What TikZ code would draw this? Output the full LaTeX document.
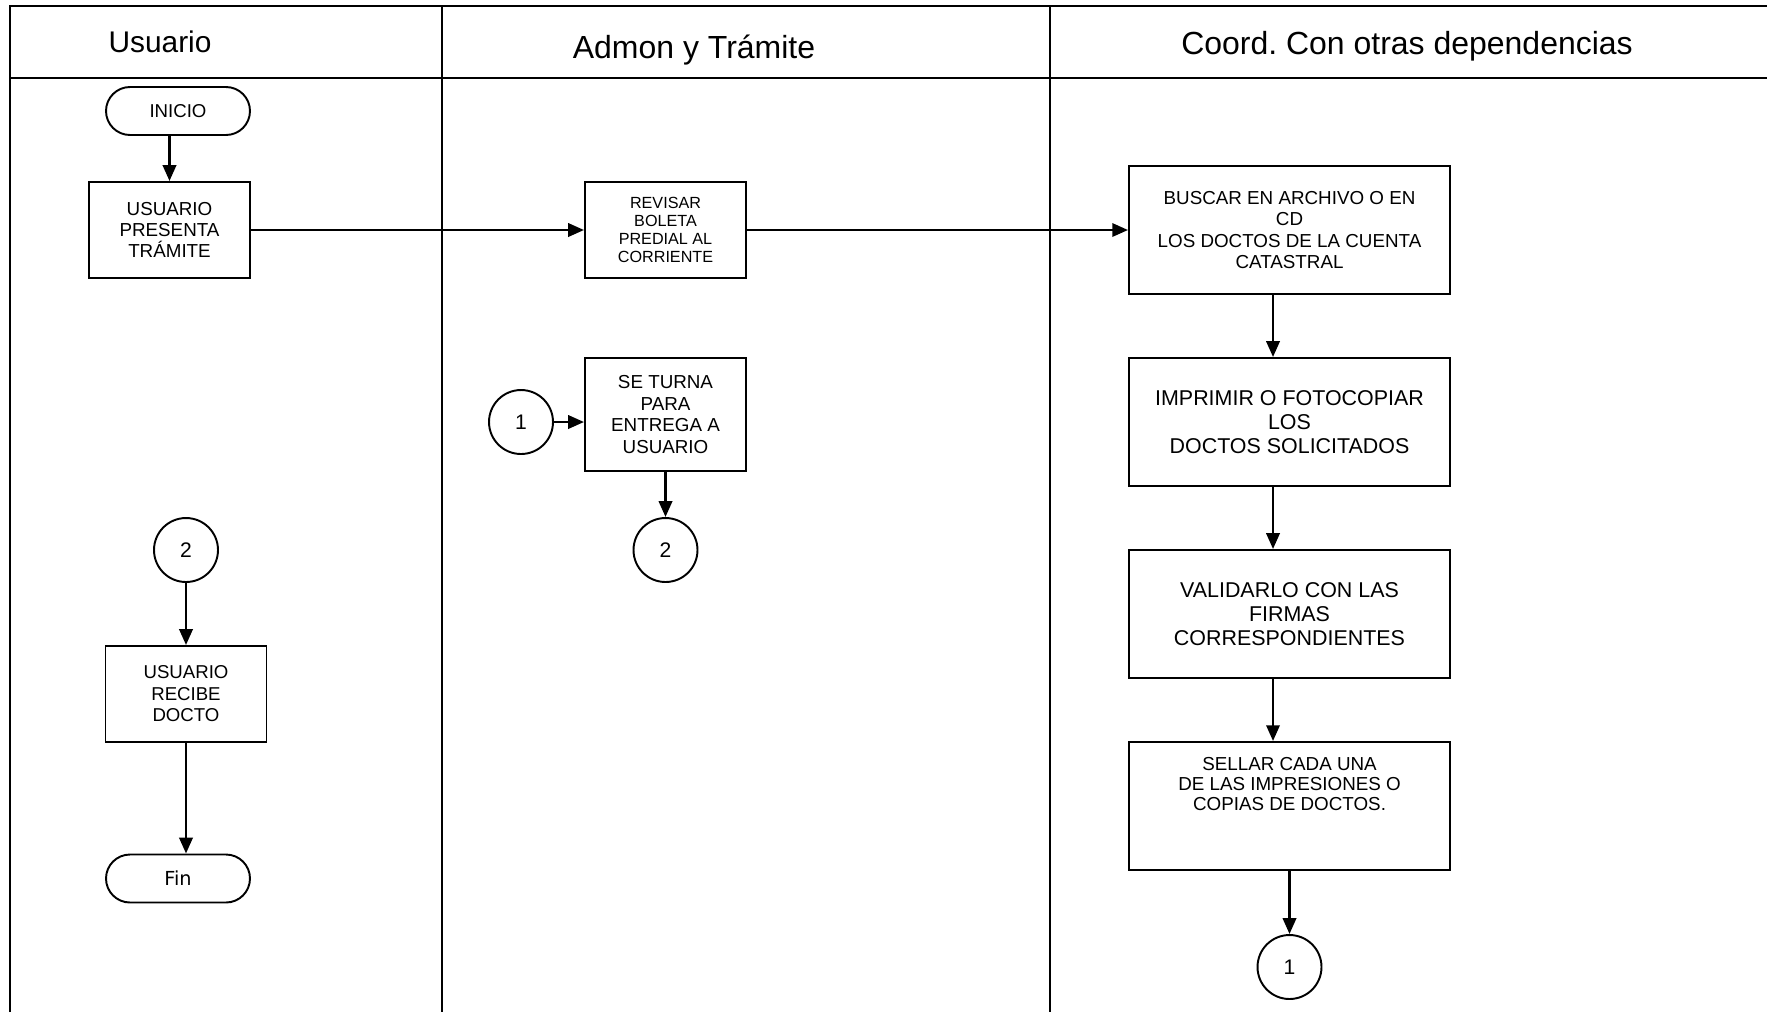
\documentclass[tikz,border=0pt]{standalone}
\usepackage{fontspec}
\setmainfont{Liberation Sans}
\newfontfamily\finfont{DejaVu Sans}
\usetikzlibrary{arrows.meta}
\frenchspacing

\begin{document}
\begin{tikzpicture}
			[x=0.02cm,y=-0.02cm,>={Triangle[length=9pt,width=7.5pt]},
			caja/.style={draw,line width=1.1pt,align=center,inner sep=2pt},
			chica/.style={caja,minimum width=3.22cm,minimum height=1.92cm},
			ancha/.style={caja,minimum width=6.42cm,minimum height=2.56cm},
			term/.style={draw,line width=1.1pt,rounded corners=0.48cm,minimum width=2.88cm,minimum height=0.96cm,font=\fontsize{10.6}{12}\selectfont},
			conector/.style={draw,circle,line width=1.1pt,minimum size=1.28cm,inner sep=0pt,font=\fontsize{12}{14}\selectfont},
			carril/.style={anchor=base,font=\fontsize{18.2}{21}\selectfont},
			flecha/.style={->,line width=1.6pt},]
			\useasboundingbox (0,0) rectangle (1767,1012);
			% carriles
			\draw[line width=1.3pt] (10,1012) -- (10,6) -- (1767,6);
			\draw[line width=1.3pt] (10,78) -- (1767,78);
			\draw[line width=1.3pt] (442,6) -- (442,1012);
			\draw[line width=1.3pt] (1050,6) -- (1050,1012);
			\node (hUsu) at (160,52)[carril,font=\fontsize{17}{20}\selectfont] {Usuario};
			\node (hAdm) at (694,58)[carril] {Admon y Trámite};
			\node (hCoo) at (1407,54)[carril] {Coord. Con otras dependencias};
			% Usuario
			\node (inicio) at (178,111)[term] {INICIO};
			\node (presenta) at (169.5,230)[chica,font=\fontsize{10.7}{12}\selectfont] {USUARIO\\PRESENTA\\TRÁMITE};
			\node (dosU) at (186,550)[conector] {2};
			\node (recibe) at (186,694)[chica,font=\fontsize{10.6}{12.2}\selectfont] {USUARIO\\RECIBE\\DOCTO};
			\node (fin) at (178,878.5)[term,font=\finfont\fontsize{11}{13}\selectfont] {Fin};
			% Admon y Tramite
			\node (revisar) at (665.5,230)[chica,font=\fontsize{9.2}{10.2}\selectfont] {REVISAR\\BOLETA\\PREDIAL AL\\CORRIENTE};
			\node (unoA) at (521,422)[conector] {1};
			\node (turna) at (665.5,414.5)[chica,minimum height=2.26cm,font=\fontsize{10.7}{12.2}\selectfont] {SE TURNA\\PARA\\ENTREGA A\\USUARIO};
			\node (dosA) at (665.5,550)[conector] {2};
			% Coord.
			\node (buscar) at (1289.5,230)[ancha,font=\fontsize{10.7}{12.3}\selectfont] {BUSCAR EN ARCHIVO O EN\\CD\\LOS DOCTOS DE LA CUENTA\\CATASTRAL};
			\node (imprimir) at (1289.5,422)[ancha,font=\fontsize{12.2}{13.6}\selectfont] {IMPRIMIR O FOTOCOPIAR\\LOS\\DOCTOS SOLICITADOS};
			\node (validar) at (1289.5,614)[ancha,font=\fontsize{12.2}{13.6}\selectfont] {VALIDARLO CON LAS\\FIRMAS\\CORRESPONDIENTES};
			\node (sellar) at (1289.5,806)[ancha,font=\fontsize{10.7}{11.3}\selectfont] {SELLAR CADA UNA\\DE LAS IMPRESIONES O\\COPIAS DE DOCTOS.\\[13.7pt]\mbox{}};
			\node (unoC) at (1289.5,967)[conector] {1};
			% flechas
			\draw[flecha] (presenta.north |- inicio.south) -- (presenta.north);
			\draw[flecha] (presenta.east) -- (revisar.west);
			\draw[flecha] (revisar.east) -- (buscar.west);
			\draw[flecha] ([xshift=-0.33cm]buscar.south) -- ([xshift=-0.33cm]imprimir.north);
			\draw[flecha] ([xshift=-0.33cm]imprimir.south) -- ([xshift=-0.33cm]validar.north);
			\draw[flecha] ([xshift=-0.33cm]validar.south) -- ([xshift=-0.33cm]sellar.north);
			\draw[flecha] (sellar.south) -- (unoC.north);
			\draw[flecha] (unoA.east) -- (unoA.east -| turna.west);
			\draw[flecha] (turna.south) -- (dosA.north);
			\draw[flecha] (dosU.south) -- (recibe.north);
			\draw[flecha] (recibe.south) -- (recibe.south |- fin.north);
	\end{tikzpicture}
\end{document}
